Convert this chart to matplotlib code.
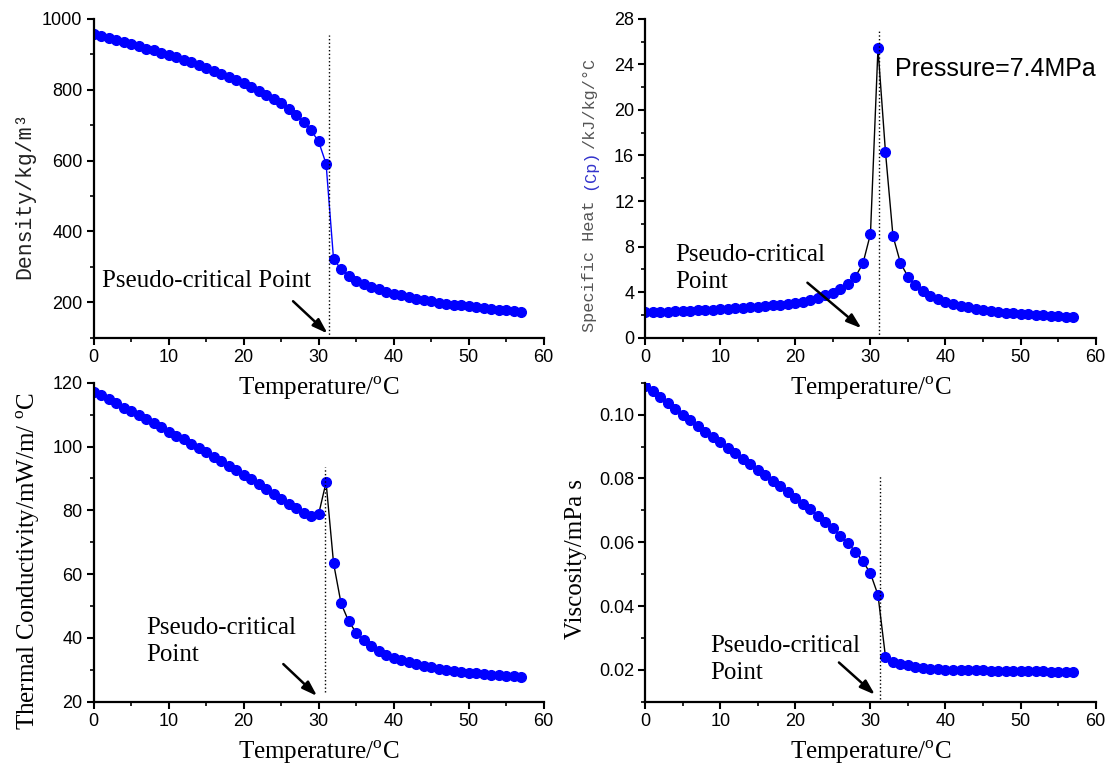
import numpy as np
import matplotlib
matplotlib.use("Agg")
import matplotlib.pyplot as plt

plt.rcParams['font.family'] = ['Liberation Sans', 'DejaVu Sans']
plt.rcParams['mathtext.fontset'] = 'custom'
plt.rcParams['mathtext.rm'] = 'Liberation Serif'

# temperature, degC
temp = np.arange(0, 58)

density = [958, 952, 947, 941, 935, 929, 923, 916, 911, 904,
           898, 891, 884, 877, 870, 862, 854, 845, 837, 827,
           819, 808, 797, 786, 774, 761, 746, 729, 709, 685,
           654, 591, 321, 294, 275, 261, 252, 243, 237, 230,
           224, 220, 215, 210, 207, 203, 199, 196, 193, 191,
           189, 186, 184, 181, 179, 178, 176, 174]

cp = [2.24, 2.26, 2.28, 2.30, 2.32, 2.35, 2.37, 2.40, 2.43, 2.46,
      2.50, 2.53, 2.57, 2.61, 2.66, 2.71, 2.77, 2.83, 2.90, 2.98,
      3.07, 3.18, 3.32, 3.51, 3.75, 3.97, 4.31, 4.72, 5.36, 6.53,
      9.11, 25.4, 16.3, 8.93, 6.56, 5.36, 4.60, 4.10, 3.66, 3.40,
      3.13, 2.96, 2.78, 2.67, 2.55, 2.43, 2.37, 2.28, 2.20, 2.14,
      2.08, 2.05, 1.99, 1.96, 1.93, 1.87, 1.85, 1.82]

conductivity = [117.1, 116.1, 114.8, 113.5, 112.2, 111.1, 109.8, 108.5, 107.3, 106.1,
                104.7, 103.4, 102.2, 100.9, 99.6, 98.2, 96.8, 95.5, 94.0, 92.7,
                91.1, 89.7, 88.3, 86.6, 85.2, 83.6, 82.0, 80.6, 79.1, 78.1,
                78.7, 88.8, 63.4, 50.8, 45.3, 41.7, 39.4, 37.5, 36.0, 34.7,
                33.8, 33.1, 32.3, 31.7, 31.2, 30.8, 30.3, 30.0, 29.7, 29.4,
                29.1, 28.9, 28.7, 28.5, 28.3, 28.1, 28.0, 27.9]

viscosity = [0.1091, 0.1073, 0.1054, 0.1035, 0.1018, 0.1000, 0.0982, 0.0964, 0.0947, 0.0930,
             0.0913, 0.0895, 0.0880, 0.0862, 0.0845, 0.0827, 0.0810, 0.0793, 0.0775, 0.0758,
             0.0740, 0.0721, 0.0703, 0.0683, 0.0663, 0.0643, 0.0621, 0.0597, 0.0570, 0.0540,
             0.0502, 0.0435, 0.0241, 0.0226, 0.0218, 0.0214, 0.0209, 0.0206, 0.0204, 0.0203,
             0.0201, 0.0200, 0.0199, 0.0199, 0.0198, 0.0198, 0.0197, 0.0197, 0.0196, 0.0196,
             0.0196, 0.0195, 0.0195, 0.0195, 0.0194, 0.0194, 0.0194, 0.0193]

# pseudo-critical marker lines: x, y-start, y-end
pc_density = [31.4, 100, 954]
pc_cp = [31.1, 0, 26.9]
pc_cond = [30.8, 23.1, 93.5]
pc_visc = [31.3, 0.0108, 0.0812]

serif = 'Liberation Serif'
mono = 'Liberation Mono'
xlab = 'Temperature/$^{\\mathrm{o}}$C'

fig = plt.figure(figsize=(11.1, 7.66), dpi=100)
ax1 = fig.add_axes([0.0843, 0.5591, 0.4054, 0.4164])
ax2 = fig.add_axes([0.5814, 0.5591, 0.4056, 0.4164])
ax3 = fig.add_axes([0.0843, 0.0839, 0.4054, 0.4165])
ax4 = fig.add_axes([0.5814, 0.0839, 0.4056, 0.4165])

def style(ax, ylim, major, minor):
    ax.patch.set_visible(False)
    for s in ['top', 'right']:
        ax.spines[s].set_visible(False)
    for s in ['left', 'bottom']:
        ax.spines[s].set_linewidth(1.6)
    ax.set_xlim(0, 60)
    ax.set_ylim(*ylim)
    ax.set_xticks(np.arange(0, 61, 10))
    ax.set_xticks(np.arange(5, 60, 10), minor=True)
    ax.yaxis.set_major_locator(matplotlib.ticker.MultipleLocator(major))
    ax.yaxis.set_minor_locator(matplotlib.ticker.MultipleLocator(minor))
    ax.tick_params(which='major', direction='out', length=5, width=1.5, labelsize=13, pad=3)
    ax.tick_params(which='minor', direction='out', length=3, width=1.2)
    ax.text(0.5, -0.158, xlab, transform=ax.transAxes, ha='center', va='center',
            family=serif, fontsize=18, zorder=10)

def arrow(ax, tail, head):
    ax.annotate('', xy=head, xytext=tail,
                arrowprops=dict(arrowstyle='-|>,head_length=0.9,head_width=0.3',
                                color='black', lw=1.8, shrinkA=0, shrinkB=0))

# density
ax1.plot(temp, density, color='blue', lw=1, marker='o', ms=7, mec='blue', mfc='blue')
ax1.plot([pc_density[0]] * 2, pc_density[1:], color='black', ls=':', lw=1)
style(ax1, (100, 1000), 200, 100)
ax1.set_yticks([200, 400, 600, 800, 1000])
ax1.text(-0.152, 0.447, 'Density/kg/m³', rotation=90, transform=ax1.transAxes,
         ha='center', va='center', family=mono, fontsize=15.5, color='#222222')
ax1.text(1.1, 261, 'Pseudo-critical Point', family=serif, fontsize=18, va='center')
arrow(ax1, (26.6, 203), (31.2, 112))

# specific heat
ax2.plot(temp, cp, color='black', lw=1, marker='o', ms=7, mec='blue', mfc='blue')
ax2.plot([pc_cp[0]] * 2, pc_cp[1:], color='black', ls=':', lw=1)
style(ax2, (0, 28), 4, 2)
t1 = ax2.text(-0.123, 0.019, 'Specific Heat ', rotation=90, transform=ax2.transAxes,
              ha='center', va='bottom', family=mono, fontsize=12.2, color='#555555')
t2 = ax2.annotate('(Cp)', xy=(0.5, 1), xycoords=t1, rotation=90, ha='center', va='bottom',
                  family=mono, fontsize=12.2, color='#3333cc')
ax2.annotate('/kJ/kg/°C', xy=(0.5, 1), xycoords=t2, rotation=90, ha='center', va='bottom',
             family=mono, fontsize=12.2, color='#555555')
ax2.text(4.0, 6.07, 'Pseudo-critical\nPoint', family=serif, fontsize=18, va='center',
         linespacing=1.3)
ax2.text(33.3, 23.6, 'Pressure=7.4MPa', fontsize=18, va='center')
arrow(ax2, (21.6, 4.83), (28.8, 0.83))

# thermal conductivity
ax3.plot(temp, conductivity, color='black', lw=1, marker='o', ms=7, mec='blue', mfc='blue')
ax3.plot([pc_cond[0]] * 2, pc_cond[1:], color='black', ls=':', lw=1)
style(ax3, (20, 120), 20, 10)
ax3.text(-0.145, 0.441, 'Thermal Conductivity/mW/m/ $^{\\mathrm{o}}$C', rotation=90,
         transform=ax3.transAxes, ha='center', va='center', family=serif, fontsize=18)
ax3.text(7.06, 39, 'Pseudo-critical\nPoint', family=serif, fontsize=18, va='center',
         linespacing=1.3)
arrow(ax3, (25.3, 31.8), (29.8, 21.8))

# viscosity
ax4.plot(temp, viscosity, color='black', lw=1, marker='o', ms=7, mec='blue', mfc='blue')
ax4.plot([pc_visc[0]] * 2, pc_visc[1:], color='black', ls=':', lw=1)
style(ax4, (0.01, 0.11), 0.02, 0.01)
ax4.set_yticks([0.02, 0.04, 0.06, 0.08, 0.10])
ax4.yaxis.set_major_formatter(matplotlib.ticker.FormatStrFormatter('%.2f'))
ax4.text(-0.154, 0.447, 'Viscosity/mPa s', rotation=90, transform=ax4.transAxes,
         ha='center', va='center', family=serif, fontsize=18)
ax4.text(8.7, 0.0231, 'Pseudo-critical\nPoint', family=serif, fontsize=18, va='center',
         linespacing=1.3)
arrow(ax4, (25.8, 0.0223), (30.6, 0.0122))

fig.savefig('out.png', dpi=100)
